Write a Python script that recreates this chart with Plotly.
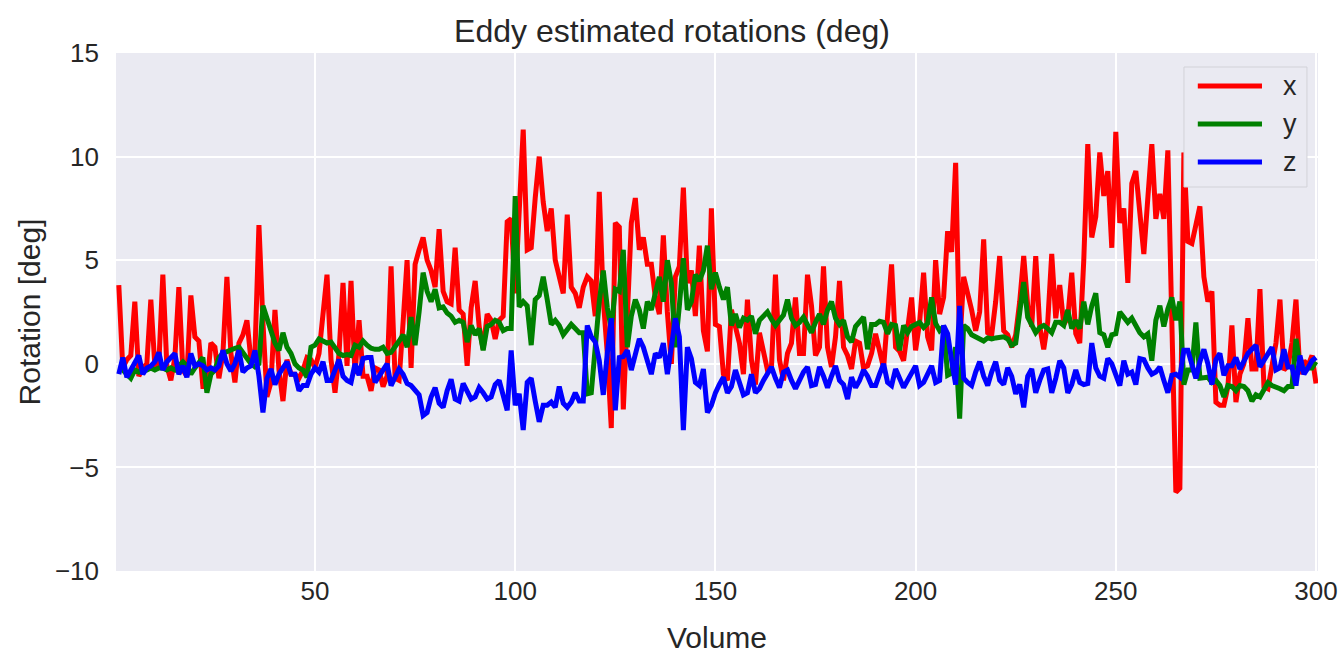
import plotly.graph_objects as go

volumes = list(range(1, 301))

rot_x = [
    3.8, -0.2, 0.2, 0.4, 3.0, -0.6, -0.2, 0.0, 3.1, -0.1,
    0.0, 4.3, -0.1, -0.8, 0.3, 3.7, -0.3, -0.6, 3.3, 1.3,
    1.1, -1.1, -1.1, 1.0, 0.8, -0.7, 0.5, 4.2, 0.5, -0.9,
    1.0, 1.4, 2.1, 0.2, 0.5, 6.7, 2.0, -1.6, -0.9, 2.6,
    -0.3, -1.8, 0.2, -0.5, -0.5, -0.7, -0.3, 0.3, 0.2, -0.2,
    0.5, 2.5, 4.3, 0.2, -1.4, 0.5, 3.9, -0.1, 4.0, -0.5,
    2.1, -0.6, -0.6, -1.3, -0.2, -0.3, -1.1, -0.6, 4.7, -0.7,
    -0.8, 2.0, 5.0, -0.2, 4.8, 5.5, 6.1, 5.0, 4.5, 3.7,
    6.5, 3.5, 3.0, 2.9, 5.6, 2.6, 2.4, -0.1, 2.7, 4.0,
    1.8, 0.7, 2.4, 2.1, 1.2, 2.1, 2.3, 6.85, 7.0, 3.4,
    7.4, 11.3, 5.5, 5.6, 8.0, 10.0, 7.8, 6.4, 7.5, 5.0,
    4.2, 3.4, 7.2, 3.7, 3.4, 2.7, 3.7, 4.2, 4.0, 2.3,
    8.3, 3.1, 0.5, -3.1, 6.8, 6.6, -2.2, 3.0, 6.8, 8.0,
    5.5, 6.1, 4.8, 4.8, 3.2, 2.4, 6.2, 2.5, 0.0, 4.2,
    4.7, 8.5, 3.9, 4.5, 2.3, 5.7, 1.6, 0.6, 7.5, 1.9,
    1.8, -0.5, -0.8, 2.6, 1.8, 1.0, -0.5, 3.1, 0.2, -1.0,
    1.5, 0.7, -0.3, -0.2, 4.3, 0.2, -0.8, 0.5, 1.0, 3.2,
    0.5, 0.5, 4.3, 2.8, 0.4, 0.8, 4.7, 0.8, -0.15, 1.3,
    4.0, 0.8, 0.4, -0.25, 1.1, 1.0, -0.2, -0.1, 0.5, 1.45,
    0.7, -0.2, 2.3, 4.8, 0.8, 0.6, 0.15, 1.5, 3.2, 0.65,
    2.0, 4.4, 1.3, 0.65, 5.0, 2.4, 3.2, 6.4, 5.4, 9.7,
    0.8, 4.2, 3.5, 2.6, 1.6, 2.5, 6.0, 1.5, 1.4, 3.0,
    5.2, 1.6, 1.4, 0.8, 1.4, 3.0, 5.2, 2.8, 1.8, 5.2,
    1.8, 0.7, 2.0, 5.3, 2.2, 3.8, 1.9, 2.2, 4.4, 1.45,
    1.0, 5.0, 10.6, 6.1, 7.1, 10.2, 8.1, 9.3, 5.6, 11.2,
    6.8, 7.5, 3.9, 8.7, 9.3, 7.3, 5.3, 8.0, 10.6, 7.0,
    8.2, 7.0, 10.3, 2.0, -6.2, -6.0, 10.2, 5.9, 5.8, 6.7,
    7.6, 4.2, 3.0, 3.5, -1.85, -2.0, -2.0, -1.1, 1.85, -1.85,
    -0.5, 0.0, 2.2, -0.25, -0.25, 3.6, -1.1, -1.2, -0.2, 1.0,
    3.1, -0.3, -0.1, 1.0, 3.1, -0.5, 0.15, -0.1, 0.4, -0.95,
]

rot_y = [
    -0.2, -0.3, -0.5, -0.7, -0.3, -0.4, -0.3, -0.3, -0.2, -0.3,
    -0.2, -0.2, -0.3, -0.2, -0.3, -0.1, 0.1, -0.1, -0.5, -0.2,
    0.1, 0.3, -1.4, -0.5, -0.3, 0.3, 0.5, 0.6, 0.7, 0.75,
    0.8, 0.5, 0.3, 0.0, -0.15, 0.0, 2.8, 2.2, 1.7, 1.0,
    0.65, 1.5, 0.8, 0.5, 0.0, -0.2, -0.3, -0.65, 0.8, 0.9,
    1.2, 1.1, 1.0, 1.05, 0.8, 0.5, 0.4, 0.45, 0.4, 0.9,
    0.8, 1.1, 0.9, 0.75, 0.7, 0.7, 0.8, 0.5, 0.55, 0.8,
    1.1, 1.4, 0.8, 2.25, 0.9, 2.5, 4.4, 3.5, 3.0, 3.6,
    2.7, 2.75, 2.45, 2.3, 2.0, 2.1, 2.0, 1.05, 1.85, 1.4,
    1.7, 0.65, 1.8, 1.9, 2.1, 2.0, 1.6, 1.7, 1.7, 8.1,
    2.75, 3.0, 2.8, 0.9, 3.1, 3.3, 4.2, 3.1, 1.9, 2.1,
    1.85, 1.4, 1.7, 1.9, 1.7, 1.5, 1.5, -1.45, -1.4, 1.0,
    3.0, 4.5, 2.7, 1.7, 3.6, 3.5, 5.5, 0.8, 2.3, 3.1,
    2.6, 1.7, 3.0, 2.6, 3.4, 4.2, 3.0, 5.0, 3.9, 0.8,
    2.8, 5.1, 2.6, 3.0, 4.3, 4.0, 4.5, 5.7, 3.6, 4.4,
    3.7, 3.1, 3.7, 1.85, 2.4, 1.75, 2.2, 2.1, 2.3, 1.45,
    2.1, 2.3, 2.5, 2.15, 1.85, 2.1, 2.35, 3.1, 2.2, 1.85,
    2.0, 2.25, 1.8, 1.5, 2.0, 2.4, 1.9, 2.6, 3.0, 2.2,
    1.9, 2.1, 1.3, 1.05, 1.8, 2.0, 2.25, 0.7, 1.9, 1.9,
    2.05, 2.0, 1.45, 1.9, 1.85, 0.65, 1.85, 1.5, 1.8, 1.9,
    2.0, 1.75, 1.95, 3.2, 1.95, 1.6, 1.8, -0.55, -0.45, 0.8,
    -2.65, 1.85, 1.7, 1.4, 1.3, 1.2, 1.1, 1.25, 1.2, 1.25,
    1.3, 1.3, 1.2, 0.9, 1.0, 2.5, 3.95, 2.25, 1.9, 1.5,
    1.75, 1.85, 1.7, 1.5, 2.0, 2.0, 1.85, 2.6, 1.7, 2.1,
    1.7, 3.0, 1.9, 2.8, 3.4, 1.5, 1.4, 0.8, 1.4, 1.45,
    2.5, 2.25, 2.0, 2.2, 1.8, 1.5, 1.3, 1.45, 0.15, 2.1,
    2.8, 1.8, 2.65, 3.2, 2.1, 3.0, -1.0, -0.3, -0.3, 2.0,
    -0.7, -0.7, -0.65, -0.9, -0.8, -1.05, -1.6, -1.05, -1.1, -1.3,
    -1.05, -1.1, -1.3, -1.8, -1.5, -1.6, -1.3, -0.9, -1.05, -1.1,
    -1.2, -1.3, -1.1, -1.1, 1.2, -0.1, -0.3, -0.2, -0.2, 0.1,
]

rot_z = [
    -0.5, 0.3, -0.65, -0.3, 0.0, 0.4, -0.5, -0.2, -0.1, 0.1,
    0.55, -0.3, 0.1, 0.3, 0.5, -0.5, -0.1, -0.65, 0.5, -0.1,
    0.0, -0.1, -0.3, -0.2, -0.3, -0.1, 0.65, 0.0, -0.35, 0.0,
    0.65, -0.4, -0.2, -0.1, 0.65, -0.6, -2.35, -0.7, -0.25, -1.0,
    -0.5, -0.2, 0.1, -0.5, -0.5, -1.3, -1.05, -1.05, -0.5, -0.2,
    -0.4, 0.1, -0.8, -0.8, -0.3, 0.2, -0.6, -0.8, -0.9, 0.0,
    -0.55, 0.25, 0.3, 0.3, -0.9, -0.6, -0.2, 0.0, -1.05, -0.6,
    -0.25, -0.5, -0.95, -1.05, -1.3, -1.5, -2.5, -2.35, -1.6, -1.15,
    -1.9, -2.1, -1.3, -0.75, -1.7, -1.8, -0.95, -1.3, -1.7, -1.6,
    -1.15, -1.4, -1.7, -1.6, -1.0, -0.8, -1.6, -2.25, 0.65, -2.0,
    -1.45, -3.2, -0.9, -0.7, -1.8, -2.8, -2.0, -2.0, -1.85, -2.1,
    -1.1, -1.9, -2.1, -1.85, -1.4, -1.8, -1.8, 1.85, 1.3, 1.05,
    0.15, -1.5, 0.5, 2.2, -2.25, 0.3, 0.35, 0.65, -0.3, 0.5,
    1.2, 0.8, 0.15, -0.5, 0.5, 0.3, 1.0, -0.5, 0.8, 2.2,
    1.3, -3.2, 0.8, 0.25, -0.9, -1.05, -0.25, -2.35, -2.0, -1.4,
    -1.0, -0.65, -1.4, -1.1, -0.3, -1.0, -1.5, -1.4, -0.5, -1.4,
    -1.2, -0.8, -0.5, -0.15, -0.7, -1.15, -0.4, -0.3, -0.8, -1.2,
    -0.8, -0.4, -0.15, -1.05, -1.0, -0.15, -0.6, -1.15, -0.6, -0.1,
    -0.8, -1.0, -1.7, -0.65, -1.15, -0.8, -0.3, -0.6, -1.05, -1.05,
    -0.5, 0.0, -0.9, -1.05, -0.25, -0.7, -1.15, -0.8, -0.4, -0.1,
    -1.05, -0.9, -0.5, -0.1, -0.9, -0.8, 1.85, 1.45, 0.15, -1.0,
    2.8, -0.7, -0.9, -1.05, -0.4, 0.1, -0.6, -1.05, -0.4, 0.1,
    -0.8, -1.0, -0.2, -0.6, -1.45, -1.0, -2.1, -0.6, -0.25, -1.4,
    -0.8, -0.3, -0.25, -1.4, -0.7, 0.15, -0.2, -1.4, -1.0, -0.3,
    -0.9, -1.0, -0.95, 1.0, -0.2, -0.6, -0.7, 0.25, 0.0, -0.6,
    -1.05, 0.15, -0.5, -0.4, -1.0, 0.25, 0.2, -0.2, -0.5, -0.4,
    -0.15, -0.8, -1.4, -0.55, -0.5, -0.65, 0.65, 0.65, -0.1, -0.7,
    0.1, 0.7, 0.0, -1.0, 0.2, 0.5, -0.55, -0.1, -0.1, 0.3,
    -0.25, 0.1, 0.5, 0.7, 0.9, -0.15, 0.2, 0.5, 0.8, -0.3,
    -0.2, 0.7, -0.15, -0.15, -1.05, 0.4, -0.5, -0.2, 0.15, 0.3,
]

series_names = ["x", "y", "z"]
series_colors = ["#FF0000", "#008000", "#0000FF"]
x_ticks = [50, 100, 150, 200, 250, 300]
y_ticks = [-10, -5, 0, 5, 10, 15]

FONT = "Liberation Sans, Arial, DejaVu Sans, sans-serif"
TXT = "#262626"
BG = "#EAEAF2"

fig = go.Figure()
for name, vals, col in zip(series_names, [rot_x, rot_y, rot_z], series_colors):
    fig.add_trace(go.Scatter(x=volumes, y=vals, mode="lines", name=name,
                             line=dict(color=col, width=5), showlegend=False))

# legend drawn as shapes + text (matplotlib style, long line samples)
lx0, lx1 = 0.8885, 0.9908
ly0, ly1 = 0.7413, 0.973
fig.add_shape(type="rect", xref="paper", yref="paper", x0=lx0, x1=lx1, y0=ly0, y1=ly1,
              line=dict(color="#d2d2d8", width=1), fillcolor=BG, layer="above")
entry_y = [0.9363, 0.8629, 0.7896]
for name, col, yy in zip(series_names, series_colors, entry_y):
    fig.add_shape(type="line", xref="paper", yref="paper", x0=0.9, x1=0.9534, y0=yy, y1=yy,
                  line=dict(color=col, width=5), layer="above")
    fig.add_annotation(x=0.9765, y=yy, xref="paper", yref="paper", text=name, showarrow=False,
                       font=dict(family=FONT, size=27, color=TXT), xanchor="center", yanchor="middle")

fig.update_layout(
    width=1344, height=654,
    margin=dict(l=116, r=26, t=53, b=83),
    paper_bgcolor="white", plot_bgcolor=BG,
    font=dict(family=FONT, color=TXT, size=26),
    title=dict(text="Eddy estimated rotations (deg)", x=0.5, xanchor="center",
               y=1 - 31 / 654, yanchor="middle", font=dict(size=32, color=TXT)),
)
fig.update_xaxes(range=[0.3, 300.5], tickvals=x_ticks, showgrid=True, gridcolor="white", gridwidth=2,
                 zeroline=False, showline=False, ticks="", tickfont=dict(size=26, color=TXT),
                 ticklabelstandoff=2, automargin=False,
                 title=dict(text="Volume", font=dict(size=30, color=TXT), standoff=22))
fig.update_yaxes(range=[-10, 15], tickvals=y_ticks, showgrid=True, gridcolor="white", gridwidth=2,
                 zeroline=False, showline=False, ticks="", tickfont=dict(size=26, color=TXT),
                 ticklabelstandoff=16, automargin=False,
                 title=dict(text="Rotation [deg]", font=dict(size=30, color=TXT), standoff=5))

fig.write_html("out.html", config={"displayModeBar": False},
               post_script="document.body.style.margin='0';")
